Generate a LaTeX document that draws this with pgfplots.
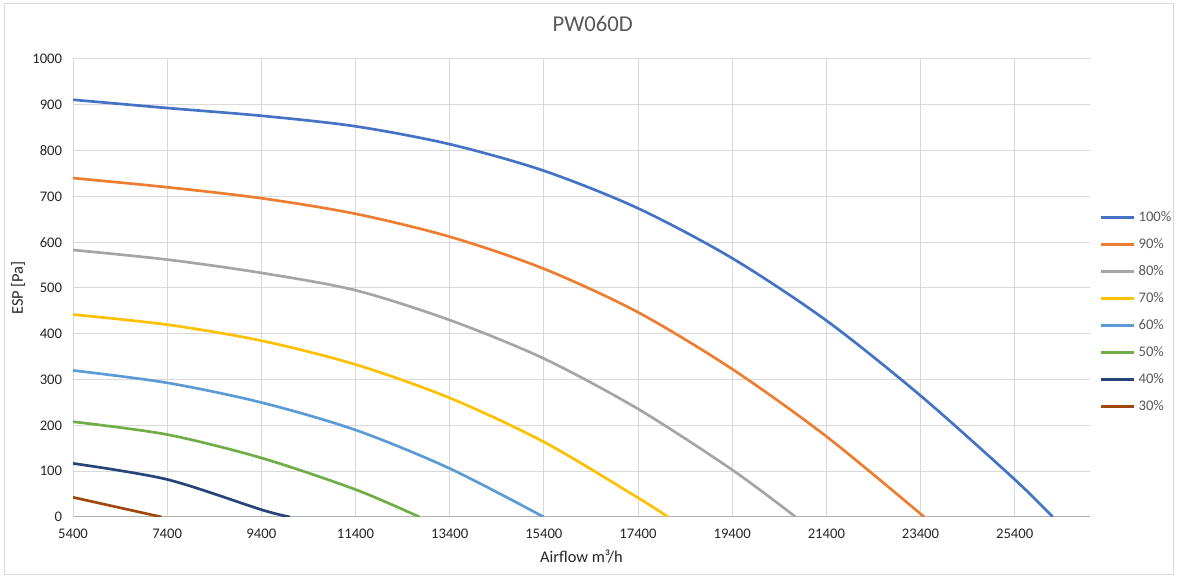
\documentclass[border=0pt]{standalone}
\usepackage{fontspec}
\setmainfont{Carlito}
\usepackage{pgfplots}
\pgfplotsset{compat=1.18}
\definecolor{c100}{HTML}{4472C4}
\definecolor{c90}{HTML}{ED7D31}
\definecolor{c80}{HTML}{A5A5A5}
\definecolor{c70}{HTML}{FFC000}
\definecolor{c60}{HTML}{5B9BD5}
\definecolor{c50}{HTML}{70AD47}
\definecolor{c40}{HTML}{264478}
\definecolor{c30}{HTML}{9E480E}
\definecolor{gridc}{HTML}{D9D9D9}
\definecolor{txt}{HTML}{595959}
\begin{document}
\begin{tikzpicture}
\useasboundingbox (0,0) rectangle (882.75pt,432.75pt);
\fill[white] (0,0) rectangle (882.75pt,432.75pt);
\draw[color=gridc, line width=0.75pt] (3pt,1.5pt) rectangle (879.75pt,429.75pt);
\begin{axis}[
  at={(54.75pt,45pt)}, anchor=south west,
  scale only axis, width=762.75pt, height=343.5pt,
  xmin=5400, xmax=27000, ymin=0, ymax=1000,
  xtick={5400,7400,9400,11400,13400,15400,17400,19400,21400,23400,25400},
  ytick={0,100,200,300,400,500,600,700,800,900,1000},
  scaled x ticks=false, scaled y ticks=false,
  grid=major, major grid style={color=gridc, line width=0.75pt},
  axis line style={draw=none}, major tick length=0pt,
  tick label style={font=\fontsize{11}{13}\selectfont, color=black!85},
  x tick label style={inner sep=0pt, yshift=-9pt},
  y tick label style={inner sep=0pt, xshift=-8pt},
  /pgf/number format/assume math mode=true,
  /pgf/number format/set thousands separator={},
  extra y ticks={0}, extra y tick labels={},
  extra y tick style={major grid style={color=black!30, line width=0.75pt}},
  title={PW060D},
  title style={at={(axis description cs:0.511,1.059)}, anchor=center, font=\fontsize{17}{20}\selectfont, color=txt},
  xlabel={Airflow m³/h},
  xlabel style={at={(axis description cs:0.5,-0.0873)}, anchor=center, font=\fontsize{12.3}{14}\selectfont, color=black!85},
  ylabel={ESP [Pa]},
  ylabel style={at={(axis description cs:-0.054,0.5)}, anchor=center, font=\fontsize{12.3}{14}\selectfont, color=black!85},
  legend cell align=left,
  legend image code/.code={\draw[#1, line width=2.2pt] (0pt,0pt) -- (24.75pt,0pt);},
  legend style={draw=none, fill=none, at={(1.0089,0.4476)}, anchor=west,
    font=\fontsize{11}{13}\selectfont\color{txt}, row sep=10.25pt, inner sep=0pt,
    nodes={inner sep=0pt, text height=8pt, text depth=2pt},
    /tikz/every odd column/.append style={column sep=2.5pt}},
  every axis plot/.append style={line width=2pt, no marks, smooth, tension=0.5},
]
\addplot[color=c100] coordinates {(5400,911) (7400,893) (9400,876) (11400,853) (13400,814) (15400,756) (17400,674) (19400,565) (21400,429) (23400,265) (25400,82) (26210,0)};
\addlegendentry{100\%}
\addplot[color=c90] coordinates {(5400,740) (7400,720) (9400,696) (11400,662) (13400,612) (15400,542) (17400,447) (19400,323) (21400,176) (23480,0)};
\addlegendentry{90\%}
\addplot[color=c80] coordinates {(5400,583) (7400,562) (9400,533) (11400,495) (13400,430) (15400,346) (17400,236) (19400,103) (20750,0)};
\addlegendentry{80\%}
\addplot[color=c70] coordinates {(5400,442) (7400,420) (9400,385) (11400,333) (13400,260) (15400,164) (17400,42) (18040,0)};
\addlegendentry{70\%}
\addplot[color=c60] coordinates {(5400,320) (7400,293) (9400,250) (11400,190) (13400,106) (15400,0)};
\addlegendentry{60\%}
\addplot[color=c50] coordinates {(5400,208) (7400,180) (9400,129) (11400,60) (12760,0)};
\addlegendentry{50\%}
\addplot[color=c40] coordinates {(5400,117) (7400,82) (9400,16) (10010,0)};
\addlegendentry{40\%}
\addplot[color=c30] coordinates {(5400,43) (7280,0)};
\addlegendentry{30\%}
\end{axis}
\end{tikzpicture}
\end{document}
